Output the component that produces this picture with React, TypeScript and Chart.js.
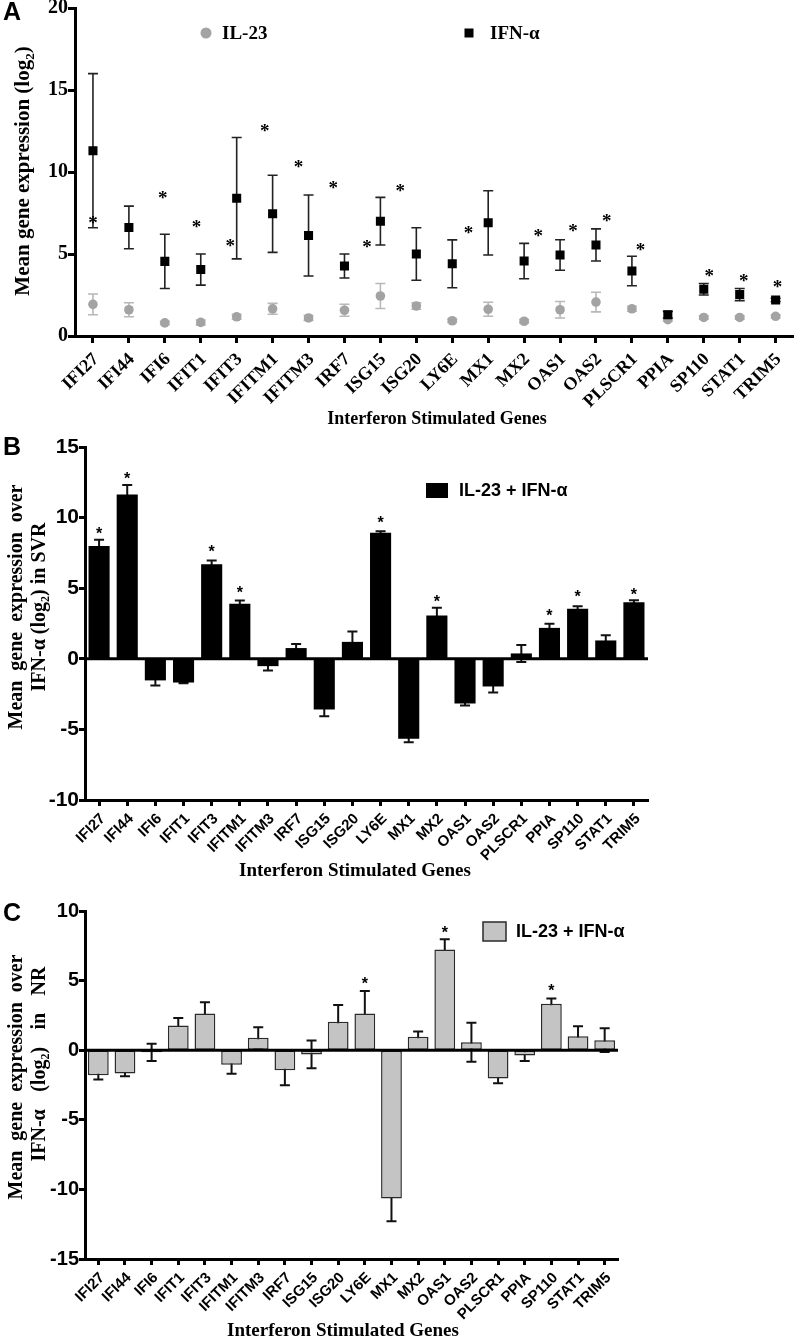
import React, { useEffect, useRef } from 'react';
import { Chart, registerables } from 'chart.js';

Chart.register(...registerables);

// ---------------- DATA ----------------
const GENES = ['IFI27', 'IFI44', 'IFI6', 'IFIT1', 'IFIT3', 'IFITM1', 'IFITM3', 'IRF7', 'ISG15', 'ISG20', 'LY6E', 'MX1', 'MX2', 'OAS1', 'OAS2', 'PLSCR1', 'PPIA', 'SP110', 'STAT1', 'TRIM5'];

// Panel A (mean ± error)
const A_IFN_MEAN = [11.3, 6.62, 4.55, 4.05, 8.4, 7.45, 6.13, 4.27, 7.0, 5.0, 4.4, 6.9, 4.57, 4.94, 5.55, 3.96, 1.3, 2.85, 2.53, 2.2];
const A_IFN_ERR = [4.7, 1.3, 1.65, 0.95, 3.7, 2.35, 2.47, 0.73, 1.45, 1.6, 1.46, 1.96, 1.08, 0.93, 0.98, 0.9, 0.2, 0.35, 0.37, 0.1];
const A_IL23_MEAN = [1.93, 1.6, 0.8, 0.83, 1.17, 1.66, 1.1, 1.57, 2.44, 1.83, 0.93, 1.63, 0.9, 1.6, 2.07, 1.66, 1.0, 1.13, 1.13, 1.2];
const A_IL23_ERR = [0.63, 0.43, 0.1, 0.15, 0.15, 0.33, 0.15, 0.37, 0.76, 0.2, 0.1, 0.43, 0.1, 0.5, 0.6, 0.15, 0.1, 0.1, 0.1, 0.1];
const A_STAR_X = [0, 1.94, 2.88, 3.82, 4.78, 5.72, 6.69, 7.63, 8.55, 10.45, 12.39, 13.36, 14.3, 15.24, 17.15, 18.11, 19.05];
const A_STAR_Y = [7.1, 8.6, 6.8, 5.7, 12.7, 10.5, 9.2, 5.6, 9.05, 6.45, 6.3, 6.6, 7.2, 5.45, 3.85, 3.55, 3.17];
const A_Y_TICKS = [0, 5, 10, 15, 20];

// Panel B (SVR)
const B_MEAN = [7.98, 11.64, -1.53, -1.68, 6.7, 3.9, -0.52, 0.76, -3.59, 1.2, 8.92, -5.67, 3.07, -3.17, -1.96, 0.38, 2.19, 3.54, 1.3, 4.0];
const B_ERR = [0.45, 0.66, 0.36, 0.06, 0.26, 0.23, 0.31, 0.28, 0.47, 0.74, 0.12, 0.24, 0.54, 0.14, 0.43, 0.6, 0.29, 0.19, 0.37, 0.15];
const B_STAR_IDX = [0, 1, 4, 5, 10, 12, 16, 17, 19];
const B_STAR_Y = [9.08, 12.98, 7.79, 4.91, 9.87, 4.25, 3.26, 4.6, 4.79];
const B_Y_TICKS = [-10, -5, 0, 5, 10, 15];

// Panel C (NR)
const C_MEAN = [-1.8, -1.68, -0.15, 1.77, 2.63, -1.05, 0.89, -1.44, -0.3, 2.04, 2.63, -10.66, 0.96, 7.23, 0.57, -2.04, -0.38, 3.33, 1.0, 0.72];
const C_ERR = [0.3, 0.19, 0.62, 0.55, 0.82, 0.65, 0.76, 1.07, 1.0, 1.2, 1.63, 1.62, 0.38, 0.74, 1.4, 0.33, 0.4, 0.38, 0.72, 0.85];
const C_STAR_IDX = [10, 13, 17];
const C_STAR_Y = [5.03, 8.64, 4.5];
const C_Y_TICKS = [-15, -10, -5, 0, 5, 10];

// ---------------- STYLE ----------------
const SERIF = '"Liberation Serif", "Times New Roman", serif';
const SANS = '"Liberation Sans", Arial, sans-serif';

type Seg = { t: string; sub?: boolean };

function drawRich(ctx: CanvasRenderingContext2D, segs: Seg[], cx: number, cy: number, size: number, family: string, rot: number, targetW = 0) {
  const pieces: { t: string; sub: boolean; space: boolean }[] = [];
  segs.forEach((s) => s.t.split(/( )/).forEach((p) => { if (p) pieces.push({ t: p, sub: !!s.sub, space: p === ' ' }); }));
  const font = (sub: boolean) => `bold ${sub ? Math.round(size * 0.62) : size}px ${family}`;
  const widths = pieces.map((p) => { ctx.font = font(p.sub); return ctx.measureText(p.t).width; });
  const natural = widths.reduce((a, b) => a + b, 0);
  const nSp = pieces.filter((p) => p.space).length;
  const extra = targetW && nSp ? Math.max(0, (targetW - natural) / nSp) : 0;
  const total = natural + extra * nSp;
  ctx.save();
  ctx.translate(cx, cy);
  ctx.rotate(rot);
  ctx.fillStyle = '#000';
  ctx.textAlign = 'left';
  ctx.textBaseline = 'alphabetic';
  let x = -total / 2;
  const base = size * 0.33;
  pieces.forEach((p, i) => {
    ctx.font = font(p.sub);
    if (!p.space) ctx.fillText(p.t, x, p.sub ? base + size * 0.22 : base);
    x += widths[i] + (p.space ? extra : 0);
  });
  ctx.restore();
}

function drawStar(ctx: CanvasRenderingContext2D, px: number, py: number, font: string) {
  ctx.save();
  ctx.font = font;
  ctx.fillStyle = '#000';
  ctx.textAlign = 'center';
  ctx.textBaseline = 'alphabetic';
  const m = ctx.measureText('*');
  ctx.fillText('*', px, py + (m.actualBoundingBoxAscent - m.actualBoundingBoxDescent) / 2);
  ctx.restore();
}

function drawErrorBars(ctx: CanvasRenderingContext2D, xs: any, ys: any, means: number[], errs: number[], color: string, lw: number, cap: number) {
  ctx.save();
  ctx.strokeStyle = color;
  ctx.lineWidth = lw;
  means.forEach((m, i) => {
    const px = xs.getPixelForValue(i);
    const top = ys.getPixelForValue(m + errs[i]);
    const bot = ys.getPixelForValue(m - errs[i]);
    ctx.beginPath();
    ctx.moveTo(px, top);
    ctx.lineTo(px, bot);
    ctx.moveTo(px - cap, top);
    ctx.lineTo(px + cap, top);
    ctx.moveTo(px - cap, bot);
    ctx.lineTo(px + cap, bot);
    ctx.stroke();
  });
  ctx.restore();
}

function drawZeroLine(chart: any) {
  const { ctx, chartArea, scales } = chart;
  const py = scales.y.getPixelForValue(0);
  ctx.save();
  ctx.strokeStyle = '#000';
  ctx.lineWidth = 3;
  ctx.beginPath();
  ctx.moveTo(chartArea.left, py);
  ctx.lineTo(chartArea.right, py);
  ctx.stroke();
  ctx.restore();
}

function drawLetter(ctx: CanvasRenderingContext2D, t: string, x: number, y: number) {
  ctx.save();
  ctx.font = `bold 25px ${SANS}`;
  ctx.fillStyle = '#000';
  ctx.textAlign = 'left';
  ctx.textBaseline = 'middle';
  ctx.fillText(t, x, y);
  ctx.restore();
}

function fixAxis(size: number, horizontal: boolean) {
  return (s: any) => {
    if (horizontal) s.height = size; else s.width = size;
    s.paddingTop = 0; s.paddingBottom = 0; s.paddingLeft = 0; s.paddingRight = 0;
  };
}

const axisLine = { display: true, width: 3, color: '#000' };

// ---------------- CHART A ----------------
function makeA(canvas: HTMLCanvasElement) {
  const plugin = {
    id: 'panelA',
    beforeDatasetsDraw(chart: any) {
      const { ctx, scales } = chart;
      drawErrorBars(ctx, scales.x, scales.y, A_IL23_MEAN, A_IL23_ERR, '#b8b8b8', 1.6, 5);
      drawErrorBars(ctx, scales.x, scales.y, A_IFN_MEAN, A_IFN_ERR, '#222', 1.6, 5);
    },
    afterDraw(chart: any) {
      const { ctx, scales } = chart;
      A_STAR_X.forEach((sx, i) => drawStar(ctx, scales.x.getPixelForValue(sx), scales.y.getPixelForValue(A_STAR_Y[i]), `bold 19px ${SERIF}`));
      // legend
      ctx.save();
      ctx.fillStyle = '#a3a3a3';
      ctx.beginPath();
      ctx.arc(206, 33, 5.5, 0, Math.PI * 2);
      ctx.fill();
      ctx.fillStyle = '#000';
      ctx.fillRect(464.5, 28.5, 9, 9);
      ctx.font = `bold 19px ${SERIF}`;
      ctx.textBaseline = 'middle';
      ctx.textAlign = 'left';
      ctx.fillText('IL-23', 222, 34);
      ctx.fillText('IFN-α', 490, 34);
      ctx.restore();
      drawRich(ctx, [{ t: 'Mean gene expression (log' }, { t: '2', sub: true }, { t: ')' }], 22, 171, 21, SERIF, -Math.PI / 2);
      drawRich(ctx, [{ t: 'Interferon Stimulated Genes' }], 437, 418, 18, SERIF, 0);
      drawLetter(ctx, 'A', 3, 13);
    },
  };
  return new Chart(canvas, {
    type: 'scatter',
    data: {
      datasets: [
        { label: 'IFN-α', data: A_IFN_MEAN.map((v, i) => ({ x: i, y: v })), pointStyle: 'rect', pointRadius: 6.4, backgroundColor: '#000', borderWidth: 0 },
        { label: 'IL-23', data: A_IL23_MEAN.map((v, i) => ({ x: i, y: v })), pointStyle: 'circle', pointRadius: 4.8, backgroundColor: '#a3a3a3', borderWidth: 0 },
      ],
    },
    options: {
      responsive: false,
      animation: false,
      layout: { padding: { top: 8, right: 2, left: 0, bottom: 0 } },
      plugins: { legend: { display: false }, tooltip: { enabled: false } },
      scales: {
        x: {
          type: 'linear',
          min: -0.5,
          max: GENES.length - 0.5,
          afterBuildTicks: (ax: any) => { ax.ticks = GENES.map((_, i) => ({ value: i })); },
          afterFit: fixAxis(94, true),
          ticks: { autoSkip: false, minRotation: 45, maxRotation: 45, padding: 6, labelOffset: 3, color: '#000', font: { family: SERIF, size: 18, weight: 'bold' }, callback: (v: any) => GENES[v] ?? '' },
          grid: { display: true, drawOnChartArea: false, drawTicks: true, tickLength: 7, tickWidth: 3, tickColor: '#000' },
          border: axisLine,
        },
        y: {
          min: A_Y_TICKS[0],
          max: A_Y_TICKS[A_Y_TICKS.length - 1],
          afterFit: fixAxis(75, false),
          ticks: { stepSize: A_Y_TICKS[1] - A_Y_TICKS[0], padding: 0, color: '#000', font: { family: SERIF, size: 20, weight: 'bold' } },
          grid: { display: true, drawOnChartArea: false, drawTicks: true, tickLength: 7, tickWidth: 3, tickColor: '#000' },
          border: axisLine,
        },
      },
    } as any,
    plugins: [plugin],
  });
}

// ---------------- BAR CHARTS B / C ----------------
function makeBar(canvas: HTMLCanvasElement, cfg: {
  mean: number[]; err: number[]; starIdx: number[]; starY: number[]; yTicks: number[];
  fill: string; border: string; borderWidth: number; barPct: number;
  padTop: number; padRight: number; xHeight: number;
  letter: string; letterY: number;
  legend: { x: number; y: number; w: number; h: number; tx: number };
  yTitle: { segs: Seg[]; x: number; y: number; w: number }[];
  xTitle: { x: number; y: number };
  tickFont: number;
}) {
  const plugin = {
    id: 'bars' + cfg.letter,
    beforeDatasetsDraw(chart: any) {
      const { ctx, scales } = chart;
      drawErrorBars(ctx, scales.x, scales.y, cfg.mean, cfg.err, '#111', 2, 5);
    },
    afterDatasetsDraw(chart: any) {
      drawZeroLine(chart);
    },
    afterDraw(chart: any) {
      const { ctx, scales } = chart;
      cfg.starIdx.forEach((idx, i) => drawStar(ctx, scales.x.getPixelForValue(idx), scales.y.getPixelForValue(cfg.starY[i]), `bold 16px ${SANS}`));
      // legend
      const L = cfg.legend;
      ctx.save();
      ctx.fillStyle = cfg.fill;
      ctx.fillRect(L.x, L.y, L.w, L.h);
      if (cfg.borderWidth > 0) {
        ctx.strokeStyle = cfg.border;
        ctx.lineWidth = 1.5;
        ctx.strokeRect(L.x, L.y, L.w, L.h);
      }
      ctx.fillStyle = '#000';
      ctx.font = `bold 18px ${SANS}`;
      ctx.textAlign = 'left';
      ctx.textBaseline = 'middle';
      ctx.fillText('IL-23 + IFN-α', L.tx, L.y + L.h / 2 + 1);
      ctx.restore();
      cfg.yTitle.forEach((t) => drawRich(ctx, t.segs, t.x, t.y, 20, SERIF, -Math.PI / 2, t.w));
      drawRich(ctx, [{ t: 'Interferon Stimulated Genes' }], cfg.xTitle.x, cfg.xTitle.y, 19, SERIF, 0);
      drawLetter(ctx, cfg.letter, 3, cfg.letterY);
    },
  };
  return new Chart(canvas, {
    type: 'bar',
    data: {
      labels: GENES,
      datasets: [{
        label: 'IL-23 + IFN-α', data: cfg.mean, backgroundColor: cfg.fill, borderColor: cfg.border,
        borderWidth: cfg.borderWidth, borderSkipped: false, barPercentage: cfg.barPct, categoryPercentage: 1,
      }],
    },
    options: {
      responsive: false,
      animation: false,
      layout: { padding: { top: cfg.padTop, right: cfg.padRight, left: 0, bottom: 0 } },
      plugins: { legend: { display: false }, tooltip: { enabled: false } },
      scales: {
        x: {
          afterFit: fixAxis(cfg.xHeight, true),
          ticks: { autoSkip: false, minRotation: 45, maxRotation: 45, padding: 4, labelOffset: 4, color: '#000', font: { family: SANS, size: 15, weight: 'bold' } },
          grid: { display: true, offset: false, drawOnChartArea: false, drawTicks: true, tickLength: 6, tickWidth: 3, tickColor: '#000' },
          border: axisLine,
        },
        y: {
          min: cfg.yTicks[0],
          max: cfg.yTicks[cfg.yTicks.length - 1],
          afterFit: fixAxis(85, false),
          ticks: { stepSize: cfg.yTicks[1] - cfg.yTicks[0], padding: 0, color: '#000', font: { family: SANS, size: cfg.tickFont, weight: 'bold' } },
          grid: { display: true, drawOnChartArea: false, drawTicks: true, tickLength: 6, tickWidth: 3, tickColor: '#000' },
          border: axisLine,
        },
      },
    } as any,
    plugins: [plugin],
  });
}

export default function App() {
  const refA = useRef<HTMLCanvasElement>(null);
  const refB = useRef<HTMLCanvasElement>(null);
  const refC = useRef<HTMLCanvasElement>(null);

  useEffect(() => {
    const charts: Chart[] = [];
    charts.push(makeA(refA.current!));
    charts.push(makeBar(refB.current!, {
      mean: B_MEAN, err: B_ERR, starIdx: B_STAR_IDX, starY: B_STAR_Y, yTicks: B_Y_TICKS,
      fill: '#000', border: '#000', borderWidth: 0, barPct: 0.75,
      padTop: 17, padRight: 152, xHeight: 80,
      letter: 'B', letterY: 18,
      legend: { x: 426, y: 53, w: 22, h: 15, tx: 459 },
      yTitle: [
        { segs: [{ t: 'Mean gene expression over' }], x: 15, y: 177, w: 245 },
        { segs: [{ t: 'IFN-α (log' }, { t: '2', sub: true }, { t: ') in SVR' }], x: 38, y: 177, w: 0 },
      ],
      xTitle: { x: 355, y: 440 },
      tickFont: 21,
    }));
    charts.push(makeBar(refC.current!, {
      mean: C_MEAN, err: C_ERR, starIdx: C_STAR_IDX, starY: C_STAR_Y, yTicks: C_Y_TICKS,
      fill: '#c4c4c4', border: '#2a2a2a', borderWidth: 1.5, barPct: 0.78,
      padTop: 31, padRight: 182, xHeight: 81,
      letter: 'C', letterY: 34,
      legend: { x: 483, y: 42, w: 23, h: 19, tx: 516 },
      yTitle: [
        { segs: [{ t: 'Mean gene expression over' }], x: 15, y: 197, w: 245 },
        { segs: [{ t: 'IFN-α (log' }, { t: '2', sub: true }, { t: ') in NR' }], x: 38, y: 184, w: 195 },
      ],
      xTitle: { x: 343, y: 450 },
      tickFont: 20,
    }));
    return () => charts.forEach((c) => c.destroy());
  }, []);

  const cs = (top: number, h: number): React.CSSProperties => ({ position: 'absolute', left: 0, top, width: 800, height: h });
  return (
    <div style={{ position: 'absolute', left: 0, top: 0, width: 800, height: 1340, background: '#fff' }}>
      <canvas ref={refA} width={800} height={430} style={cs(0, 430)} />
      <canvas ref={refB} width={800} height={450} style={cs(430, 450)} />
      <canvas ref={refC} width={800} height={460} style={cs(880, 460)} />
    </div>
  );
}
